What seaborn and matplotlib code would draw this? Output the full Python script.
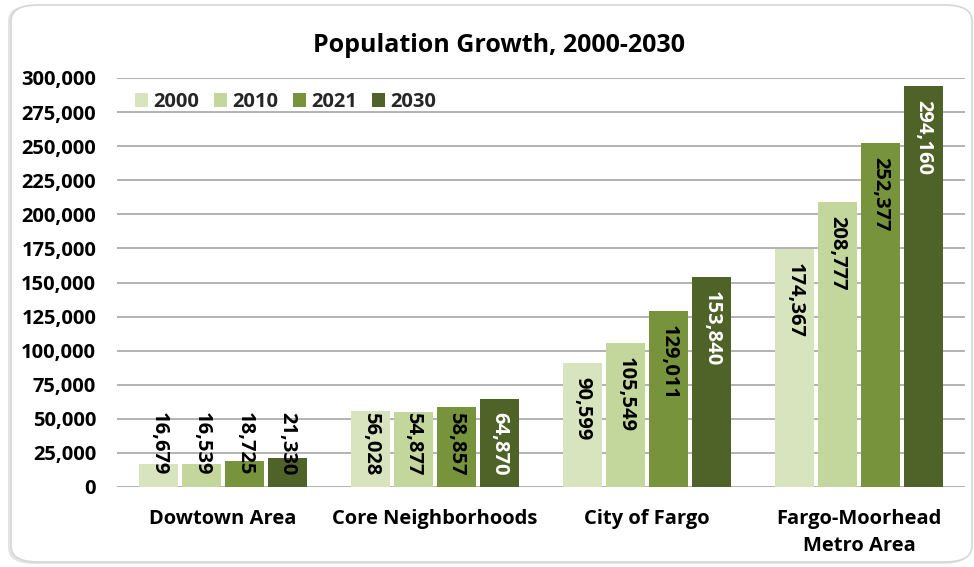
import matplotlib
matplotlib.use("Agg")
import matplotlib.pyplot as plt
from matplotlib.patches import FancyBboxPatch, Patch
from matplotlib.ticker import FuncFormatter, MultipleLocator
import pandas as pd
import seaborn as sns

# Population by area and year
areas = ["Dowtown Area", "Core Neighborhoods", "City of Fargo", "Fargo-Moorhead\nMetro Area"]
years = ["2000", "2010", "2021", "2030"]
pop_2000 = [16679, 56028, 90599, 174367]
pop_2010 = [16539, 54877, 105549, 208777]
pop_2021 = [18725, 58857, 129011, 252377]
pop_2030 = [21330, 64870, 153840, 294160]
palette = ["#D7E4BD", "#C3D69B", "#77933C", "#4F6228"]
label_colors = ["black", "black", "black", "white"]

series = dict(zip(years, [pop_2000, pop_2010, pop_2021, pop_2030]))
df = pd.DataFrame(
    [(a, y, v) for y, vals in series.items() for a, v in zip(areas, vals)],
    columns=["area", "year", "population"],
)

sns.set_theme(style="white")
FONT = ["Open Sans", "DejaVu Sans"]
plt.rcParams["font.family"] = FONT
FS = 14.5

W, H, DPI = 974, 567, 100
fig = plt.figure(figsize=(W / DPI, H / DPI), dpi=DPI)
fig.patch.set_facecolor("white")

# rounded card behind the chart
shadow = FancyBboxPatch((8 / W, 3 / H), 962 / W, 559 / H,
                        boxstyle="round,pad=0,rounding_size=0.028",
                        transform=fig.transFigure, facecolor="#E4E4E4",
                        edgecolor="none", zorder=-2)
card = FancyBboxPatch((11 / W, 5 / H), 961 / W, 557 / H,
                      boxstyle="round,pad=0,rounding_size=0.028",
                      transform=fig.transFigure, facecolor="white",
                      edgecolor="#D6D6D6", linewidth=1.2, zorder=-1)
fig.patches.extend([shadow, card])

ax = fig.add_axes([117 / W, 1 - 487 / H, (965 - 117) / W, (487 - 78) / H])
ax.patch.set_alpha(0)

sns.barplot(data=df, x="area", y="population", hue="year", order=areas,
            hue_order=years, palette=palette, width=0.81, gap=0.08,
            saturation=1, ax=ax, legend=False, zorder=3, linewidth=0)

ax.set_xlim(-0.5, 3.5)
ax.set_ylim(0, 300000)
ax.yaxis.set_major_locator(MultipleLocator(25000))
ax.yaxis.set_major_formatter(FuncFormatter(lambda v, p: f"{int(v):,}"))
ax.grid(axis="y", color="#ADADAD", linewidth=1.3, zorder=0)
ax.set_axisbelow(True)
for s in ax.spines.values():
    s.set_visible(False)
ax.set_xlabel("")
ax.set_ylabel("")
ax.tick_params(axis="y", length=0, pad=15, labelsize=FS)
ax.tick_params(axis="x", length=0, pad=16, labelsize=FS)
for t in ax.get_yticklabels() + ax.get_xticklabels():
    t.set_fontweight("bold")
    t.set_color("black")
    t.set_linespacing(1.45)

fig.text(0.512, 1 - 45 / H, "Population Growth, 2000-2030", ha="center",
         va="center", fontsize=18, fontweight="bold", color="black")

handles = [Patch(facecolor=c, edgecolor="none", label=y) for c, y in zip(palette, years)]
ax.legend(handles=handles, ncol=4, loc="center left",
          bbox_to_anchor=((135 - 117) / 848, (487 - 102) / 409),
          frameon=False, borderpad=0, borderaxespad=0, handlelength=0.65,
          handleheight=0.65, handletextpad=0.27, columnspacing=0.72,
          prop={"weight": "bold", "size": FS})

# value labels: rotated, tucked under the bar top, kept above the baseline
fig.canvas.draw()
renderer = fig.canvas.get_renderer()
base_disp = ax.transData.transform((0, 0))[1]
for container, col in zip(ax.containers, label_colors):
    for bar in container:
        h = bar.get_height()
        xc = bar.get_x() + bar.get_width() / 2
        t = ax.text(xc, h, f"{int(round(h)):,}", rotation=270, ha="center",
                    va="top", fontsize=FS, fontweight="bold", color=col,
                    zorder=5)
        ext = t.get_window_extent(renderer)
        bar_top = ax.transData.transform((xc, h))[1]
        top_disp = max(bar_top - 14, base_disp + 12 + ext.height)
        if top_disp > bar_top + 4:
            # text sticks out of the bar onto the white background
            t.set_color("black")
        t.set_y(ax.transData.inverted().transform((0, top_disp))[1])

fig.savefig("out.png", dpi=DPI)
